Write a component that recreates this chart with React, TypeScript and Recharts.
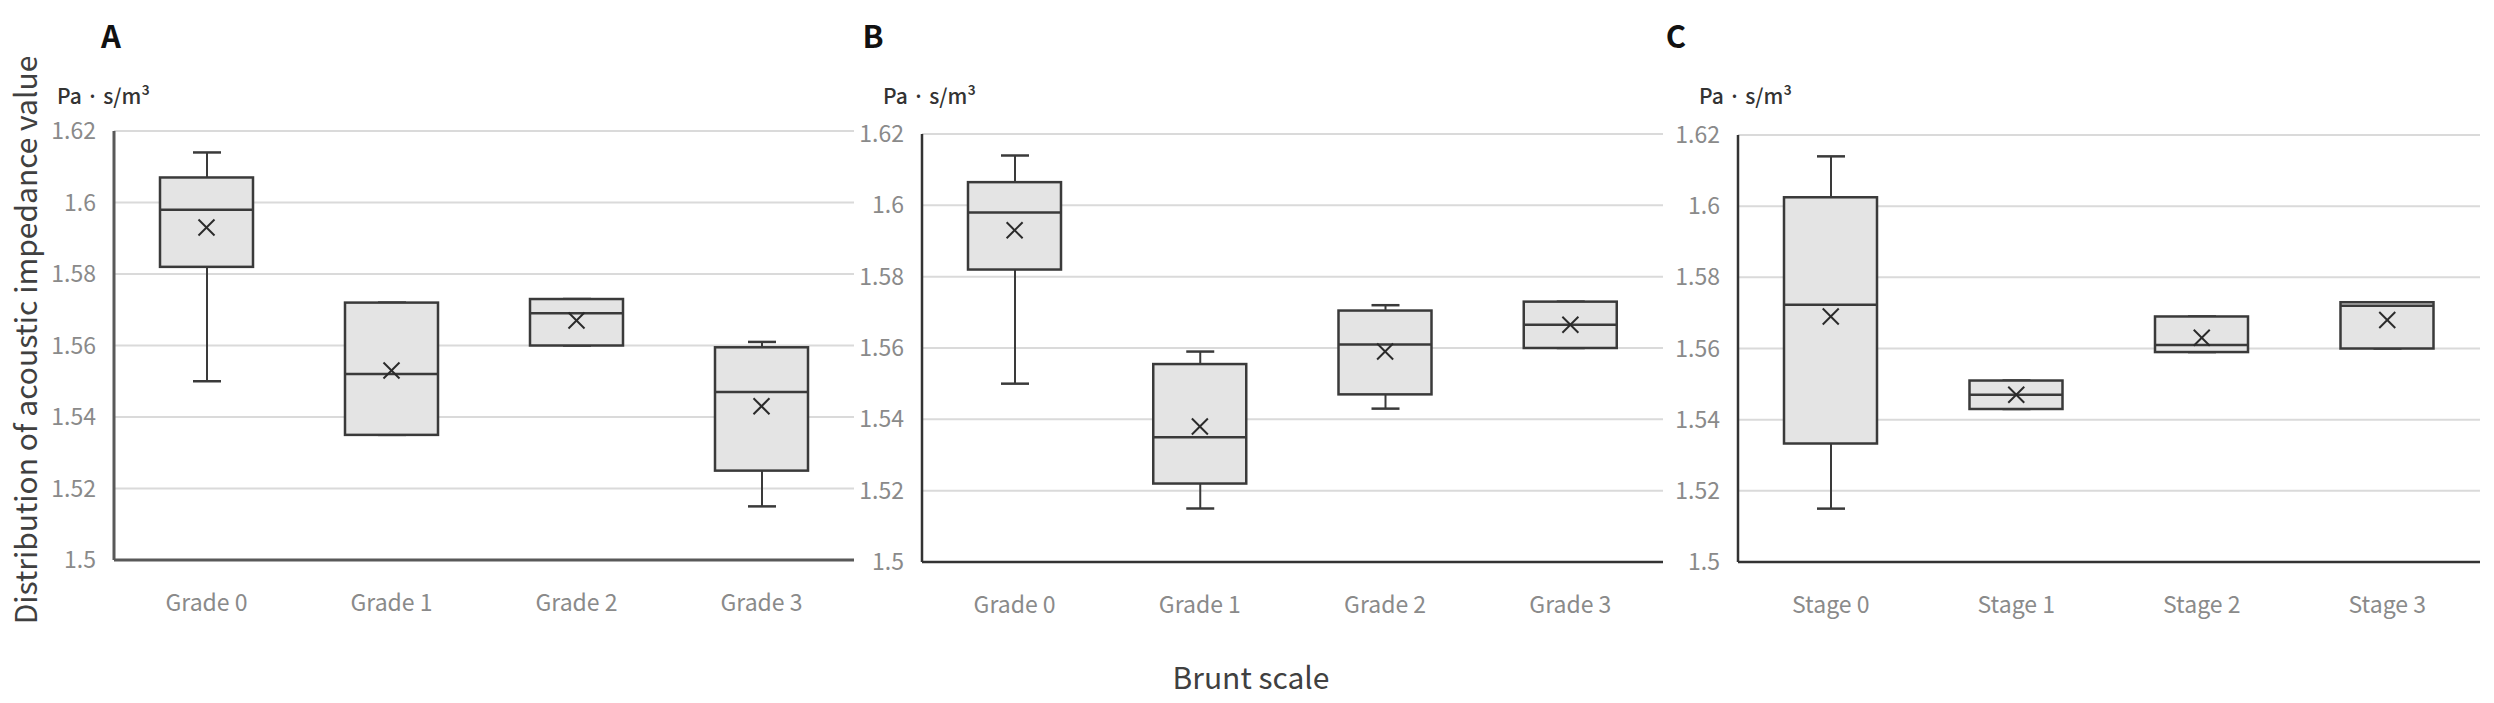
import React from 'react';
import { ComposedChart, Bar, Scatter, XAxis, YAxis, CartesianGrid } from 'recharts';

const gradeCategories = ['Grade 0', 'Grade 1', 'Grade 2', 'Grade 3'];
const stageCategories = ['Stage 0', 'Stage 1', 'Stage 2', 'Stage 3'];
const yTicks = [1.5, 1.52, 1.54, 1.56, 1.58, 1.6, 1.62];

// Panel A
const aMin = [1.55, 1.535, 1.56, 1.515];
const aQ1 = [1.582, 1.535, 1.56, 1.525];
const aMed = [1.598, 1.552, 1.569, 1.547];
const aQ3 = [1.607, 1.572, 1.573, 1.5595];
const aMax = [1.614, 1.572, 1.573, 1.561];
const aMean = [1.593, 1.553, 1.567, 1.543];

// Panel B
const bMin = [1.55, 1.515, 1.543, 1.56];
const bQ1 = [1.582, 1.522, 1.547, 1.56];
const bMed = [1.598, 1.535, 1.561, 1.5665];
const bQ3 = [1.6065, 1.5555, 1.5705, 1.573];
const bMax = [1.614, 1.559, 1.572, 1.573];
const bMean = [1.593, 1.538, 1.559, 1.5665];

// Panel C
const cMin = [1.515, 1.543, 1.559, 1.56];
const cQ1 = [1.5333, 1.543, 1.559, 1.56];
const cMed = [1.5723, 1.547, 1.561, 1.572];
const cQ3 = [1.6025, 1.551, 1.569, 1.573];
const cMax = [1.614, 1.551, 1.569, 1.573];
const cMean = [1.569, 1.547, 1.563, 1.568];

const FONT = '"Noto Sans CJK JP", "Noto Sans", sans-serif';
const BOX_W = 93;
const CAP_W = 28;
const STROKE = '#3a3a3a';

type Row = { cat: string; min: number; q1: number; med: number; q3: number; max: number; mean: number };

function build(cats: string[], mn: number[], q1: number[], med: number[], q3: number[], mx: number[], mean: number[]): Row[] {
  return cats.map((c, i) => ({ cat: c, min: mn[i], q1: q1[i], med: med[i], q3: q3[i], max: mx[i], mean: mean[i] }));
}

const dataA = build(gradeCategories, aMin, aQ1, aMed, aQ3, aMax, aMean);
const dataB = build(gradeCategories, bMin, bQ1, bMed, bQ3, bMax, bMean);
const dataC = build(stageCategories, cMin, cQ1, cMed, cQ3, cMax, cMean);

const WhiskerShape = (p: any) => {
  const { x, y, width, height } = p;
  const top = Math.min(y, y + height);
  const bot = Math.max(y, y + height);
  const cx = x + width / 2;
  return (
    <g>
      <line x1={cx} x2={cx} y1={top} y2={bot} stroke={STROKE} strokeWidth={2} />
      <line x1={x} x2={x + width} y1={top} y2={top} stroke={STROKE} strokeWidth={2.5} />
      <line x1={x} x2={x + width} y1={bot} y2={bot} stroke={STROKE} strokeWidth={2.5} />
    </g>
  );
};

const BoxShape = (p: any) => {
  const { x, y, width, height } = p;
  const top = Math.min(y, y + height);
  const h = Math.abs(height);
  return <rect x={x} y={top} width={width} height={h} fill="#e4e4e4" stroke={STROKE} strokeWidth={2.5} />;
};

const MedianShape = (p: any) => {
  const { cx, cy } = p;
  return <line x1={cx - BOX_W / 2} x2={cx + BOX_W / 2} y1={cy} y2={cy} stroke={STROKE} strokeWidth={2.5} />;
};

const MeanShape = (p: any) => {
  const { cx, cy } = p;
  const s = 8;
  return (
    <g>
      <line x1={cx - s} x2={cx + s} y1={cy - s} y2={cy + s} stroke="#2a2a2a" strokeWidth={2} />
      <line x1={cx - s} x2={cx + s} y1={cy + s} y2={cy - s} stroke="#2a2a2a" strokeWidth={2} />
    </g>
  );
};

type PanelProps = {
  data: Row[];
  plotLeft: number;
  plotRight: number;
  plotTop: number;
  plotBottom: number;
  axisColor: string;
  axisWidth: number;
};

const Y_AXIS_W = 80;
const X_AXIS_H = 60;
const CHART_H = 660;

function Panel({ data, plotLeft, plotRight, plotTop, plotBottom, axisColor, axisWidth }: PanelProps) {
  const width = plotRight - plotLeft + Y_AXIS_W + 4;
  const bottomMargin = CHART_H - plotBottom - X_AXIS_H;
  return (
    <div style={{ position: 'absolute', left: plotLeft - Y_AXIS_W, top: 0 }}>
      <ComposedChart
        width={width}
        height={CHART_H}
        data={data}
        margin={{ top: plotTop, right: 4, left: 0, bottom: bottomMargin }}
      >
        <CartesianGrid vertical={false} stroke="#dadada" strokeWidth={2} />
        <XAxis
          xAxisId="main"
          dataKey="cat"
          height={X_AXIS_H}
          axisLine={{ stroke: axisColor, strokeWidth: axisWidth }}
          tickLine={false}
          tickSize={0}
          tickMargin={35}
          tick={{ fill: '#8a8a8a', fontSize: 23, fontFamily: FONT }}
        />
        <XAxis xAxisId="w" dataKey="cat" hide orientation="top" height={0} />
        <XAxis xAxisId="b" dataKey="cat" hide orientation="top" height={0} />
        <YAxis
          width={Y_AXIS_W}
          domain={[1.5, 1.62]}
          ticks={yTicks}
          allowDataOverflow
          axisLine={{ stroke: axisColor, strokeWidth: axisWidth }}
          tickLine={false}
          tickSize={0}
          tickMargin={18}
          tick={{ fill: '#8a8a8a', fontSize: 23, fontFamily: FONT }}
        />
        <Bar
          xAxisId="w"
          dataKey={(d: Row) => [d.min, d.max]}
          barSize={CAP_W}
          shape={WhiskerShape}
          isAnimationActive={false}
        />
        <Bar
          xAxisId="b"
          dataKey={(d: Row) => [d.q1, d.q3]}
          barSize={BOX_W}
          shape={BoxShape}
          isAnimationActive={false}
        />
        <Scatter xAxisId="main" dataKey="med" shape={MedianShape} isAnimationActive={false} />
        <Scatter xAxisId="main" dataKey="mean" shape={MeanShape} isAnimationActive={false} />
      </ComposedChart>
    </div>
  );
}

export default function App() {
  return (
    <div style={{ position: 'absolute', left: 0, top: 0, width: 2494, height: 703, background: '#fff', overflow: 'hidden' }}>
      <Panel data={dataA} plotLeft={114} plotRight={854} plotTop={131} plotBottom={560} axisColor="#595959" axisWidth={3} />
      <Panel data={dataB} plotLeft={922} plotRight={1663} plotTop={134} plotBottom={562} axisColor="#333333" axisWidth={2.5} />
      <Panel data={dataC} plotLeft={1738} plotRight={2480} plotTop={135} plotBottom={562} axisColor="#333333" axisWidth={2.5} />
      <svg width={2494} height={703} style={{ position: 'absolute', left: 0, top: 0, pointerEvents: 'none' }}>
        <g fontFamily={FONT}>
          <text x={111} y={48} fontSize={31} fontWeight={700} fill="#111" textAnchor="middle">A</text>
          <text x={873} y={48} fontSize={31} fontWeight={700} fill="#111" textAnchor="middle">B</text>
          <text x={1676} y={48} fontSize={31} fontWeight={700} fill="#111" textAnchor="middle">C</text>
          <text x={57} y={104} fontSize={21} fontWeight={500} fill="#333">Pa · s/m³</text>
          <text x={883} y={104} fontSize={21} fontWeight={500} fill="#333">Pa · s/m³</text>
          <text x={1699} y={104} fontSize={21} fontWeight={500} fill="#333">Pa · s/m³</text>
          <text x={0} y={0} fontSize={30} fill="#404040" textAnchor="middle" transform="translate(37 340) rotate(-90)">Distribution of acoustic impedance value</text>
          <text x={1251} y={689} fontSize={30} fill="#404040" textAnchor="middle">Brunt scale</text>
        </g>
      </svg>
    </div>
  );
}
